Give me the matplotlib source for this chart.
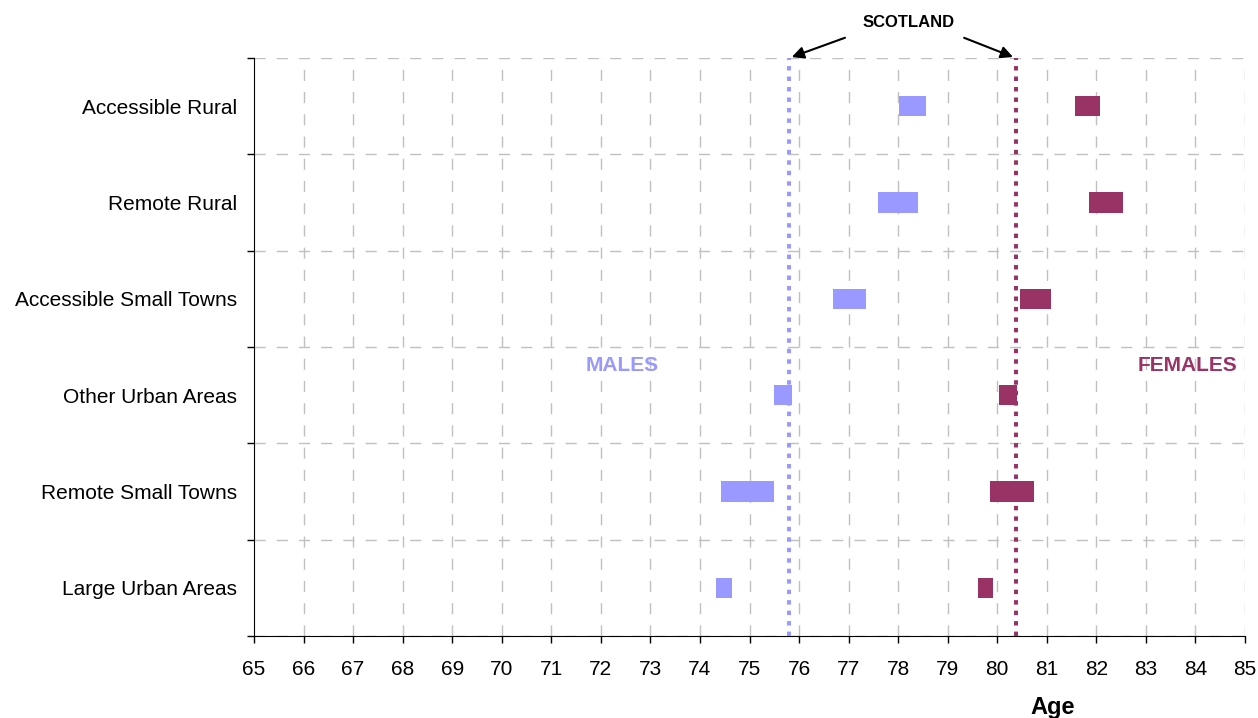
import matplotlib.pyplot as plt
import numpy as np

plt.rcParams['font.family'] = ['Liberation Sans', 'DejaVu Sans']

areas = ['Large Urban Areas', 'Remote Small Towns', 'Other Urban Areas',
         'Accessible Small Towns', 'Remote Rural', 'Accessible Rural']
male_lo = [74.33, 74.43, 75.49, 76.69, 77.59, 78.02]
male_hi = [74.65, 75.49, 75.86, 77.35, 78.40, 78.56]
female_lo = [79.61, 79.85, 80.04, 80.46, 81.85, 81.57]
female_hi = [79.91, 80.74, 80.40, 81.08, 82.54, 82.07]
scotland_male = 75.8
scotland_female = 80.37
ages = list(range(65, 86))

male_col = '#9999FF'
female_col = '#993366'

fig = plt.figure(figsize=(12.58, 7.18), dpi=100)
ax = fig.add_axes([254/1258, 82/718, 991/1258, 578/718])

y = np.arange(len(areas)) + 0.5
ax.barh(y, np.array(male_hi) - np.array(male_lo), left=male_lo, height=0.21,
        color=male_col, zorder=4)
ax.barh(y, np.array(female_hi) - np.array(female_lo), left=female_lo, height=0.21,
        color=female_col, zorder=2)

ax.axvline(scotland_male, color=male_col, lw=2.9, ls=(0, (1.1, 1.5)), zorder=3)
ax.axvline(scotland_female, color=female_col, lw=2.9, ls=(0, (1.1, 1.5)), zorder=3)

ax.set_xlim(65, 85)
ax.set_ylim(0, len(areas))
ax.set_xticks(ages)
ax.set_xticklabels([str(a) for a in ages], fontsize=15)
ax.set_yticks(np.arange(len(areas) + 1))
ax.set_yticklabels([])
ax.set_yticks(y, minor=True)
ax.set_yticklabels(areas, minor=True, fontsize=15)
ax.tick_params(axis='y', which='minor', length=0, pad=12)
ax.tick_params(axis='y', which='major', length=5, width=1)
ax.tick_params(axis='x', length=5, width=1, pad=12)

for a in ages[1:]:
    ax.axvline(a, color='#c0c0c0', lw=1, ls=(0, (8, 8)), zorder=1)
for b in range(len(areas) + 1):
    ax.axhline(b, color='#c0c0c0', lw=1, ls=(0, (8, 8)), zorder=1)

for s in ['top', 'right']:
    ax.spines[s].set_visible(False)

ax.text(72.43, 2.81, 'MALES', color=male_col, fontsize=15, fontweight='bold',
        ha='center', va='center', zorder=6)
ax.text(83.83, 2.81, 'FEMALES', color=female_col, fontsize=15, fontweight='bold',
        ha='center', va='center', zorder=6)

ax.annotate('', xy=(scotland_male, 6.0), xytext=(76.98, 6.22),
            annotation_clip=False,
            arrowprops=dict(arrowstyle='-|>', color='black', lw=1.5, mutation_scale=18))
ax.annotate('', xy=(scotland_female, 6.0), xytext=(79.28, 6.22),
            annotation_clip=False,
            arrowprops=dict(arrowstyle='-|>', color='black', lw=1.5, mutation_scale=18))
ax.text(78.22, 6.37, 'SCOTLAND', fontsize=12, fontweight='bold',
        ha='center', va='center')

ax.set_xlabel('Age', fontsize=17, fontweight='bold')
ax.xaxis.set_label_coords(0.806, -0.104)

fig.savefig('out.png', dpi=100)
